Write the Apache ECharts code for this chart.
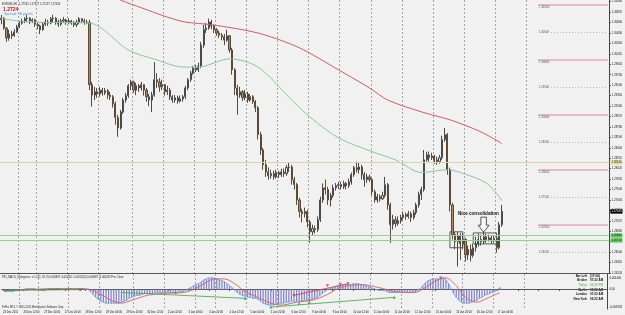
<!DOCTYPE html>
<html><head><meta charset="utf-8">
<script src="https://cdn.jsdelivr.net/npm/echarts@6/dist/echarts.min.js"></script>
<style>html,body{margin:0;padding:0;background:#f1f1f1}#c{width:625px;height:315px}</style>
</head><body><div id="c"></div>
<script>
const xTickLabels = ['23 Dec 2011','26 Dec 12:00','27 Dec 04:00','27 Dec 20:00','28 Dec 12:00','29 Dec 04:00','29 Dec 20:00','30 Dec 12:00','2 Jan 12:00','3 Jan 04:00','3 Jan 20:00','4 Jan 12:00','5 Jan 04:00','5 Jan 20:00','6 Jan 12:00','9 Jan 04:00','9 Jan 20:00','10 Jan 12:00','11 Jan 04:00','11 Jan 20:00','12 Jan 12:00','13 Jan 04:00','13 Jan 20:00','16 Jan 12:00','17 Jan 04:00'];
const slotCount = 235;
const dayStartSlots = [7,14,26,38,51,63,75,83,95,107,119,131,143,155,167,179,191,203];

const opens = [1.3073,1.3076,1.3058,1.3040,1.3047,1.3044,1.3051,1.3060,1.3067,1.3071,
1.3075,1.3076,1.3071,1.3073,1.3065,1.3062,1.3055,1.3065,1.3069,1.3067,
1.3075,1.3076,1.3069,1.3065,1.3071,1.3073,1.3069,1.3071,1.3067,1.3064,
1.3069,1.3075,1.3071,1.3069,1.3068,1.2955,1.2936,1.2942,1.2938,1.2945,
1.2940,1.2944,1.2936,1.2933,1.2920,1.2895,1.2876,1.2905,1.2927,1.2935,
1.2953,1.2960,1.2945,1.2953,1.2949,1.2955,1.2945,1.2933,1.2927,1.2936,
1.2964,1.2960,1.2951,1.2955,1.2942,1.2945,1.2933,1.2927,1.2931,1.2925,
1.2929,1.2933,1.2949,1.2964,1.2976,1.2985,1.2982,1.2989,1.3027,1.3055,
1.3058,1.3069,1.3062,1.3055,1.3049,1.3045,1.3042,1.3036,1.3044,1.3018,
1.2982,1.2949,1.2936,1.2942,1.2931,1.2938,1.2927,1.2933,1.2924,1.2913,
1.2864,1.2836,1.2809,1.2796,1.2789,1.2793,1.2787,1.2795,1.2791,1.2796,
1.2793,1.2804,1.2805,1.2782,1.2773,1.2745,1.2724,1.2720,1.2724,1.2705,
1.2687,1.2693,1.2691,1.2709,1.2745,1.2767,1.2764,1.2745,1.2753,1.2767,
1.2771,1.2773,1.2769,1.2775,1.2771,1.2778,1.2791,1.2804,1.2800,1.2805,
1.2791,1.2782,1.2787,1.2782,1.2760,1.2745,1.2751,1.2747,1.2753,1.2773,
1.2736,1.2700,1.2709,1.2702,1.2707,1.2713,1.2718,1.2715,1.2720,1.2713,
1.2722,1.2736,1.2755,1.2764,1.2818,1.2827,1.2822,1.2825,1.2818,1.2815,
1.2822,1.2855,1.2864,1.2800,1.2736,1.2682,1.2669,1.2680,1.2665,1.2673,
1.2645,1.2655,1.2644,1.2658,1.2665,1.2673,1.2669,1.2678,1.2673,1.2676,
1.2671,1.2675,1.2658,1.2700];
const closes = [1.3076,1.3058,1.3040,1.3047,1.3044,1.3051,1.3060,1.3067,1.3071,1.3075,
1.3076,1.3071,1.3073,1.3065,1.3062,1.3055,1.3065,1.3069,1.3067,1.3075,
1.3076,1.3069,1.3065,1.3071,1.3073,1.3069,1.3071,1.3067,1.3064,1.3069,
1.3075,1.3071,1.3069,1.3068,1.2955,1.2936,1.2942,1.2938,1.2945,1.2940,
1.2944,1.2936,1.2933,1.2920,1.2895,1.2876,1.2905,1.2927,1.2935,1.2953,
1.2960,1.2945,1.2953,1.2949,1.2955,1.2945,1.2933,1.2927,1.2936,1.2964,
1.2960,1.2951,1.2955,1.2942,1.2945,1.2933,1.2927,1.2931,1.2925,1.2929,
1.2933,1.2949,1.2964,1.2976,1.2985,1.2982,1.2989,1.3027,1.3055,1.3058,
1.3069,1.3062,1.3055,1.3049,1.3045,1.3042,1.3036,1.3044,1.3018,1.2982,
1.2949,1.2936,1.2942,1.2931,1.2938,1.2927,1.2933,1.2924,1.2913,1.2864,
1.2836,1.2809,1.2796,1.2789,1.2793,1.2787,1.2795,1.2791,1.2796,1.2793,
1.2804,1.2805,1.2782,1.2773,1.2745,1.2724,1.2720,1.2724,1.2705,1.2687,
1.2693,1.2691,1.2709,1.2745,1.2767,1.2764,1.2745,1.2753,1.2767,1.2771,
1.2773,1.2769,1.2775,1.2771,1.2778,1.2791,1.2804,1.2800,1.2805,1.2791,
1.2782,1.2787,1.2782,1.2760,1.2745,1.2751,1.2747,1.2753,1.2773,1.2736,
1.2700,1.2709,1.2702,1.2707,1.2713,1.2718,1.2715,1.2720,1.2713,1.2722,
1.2736,1.2755,1.2764,1.2818,1.2827,1.2822,1.2825,1.2818,1.2815,1.2822,
1.2855,1.2864,1.2800,1.2736,1.2682,1.2669,1.2680,1.2665,1.2673,1.2645,
1.2655,1.2644,1.2658,1.2665,1.2673,1.2669,1.2678,1.2673,1.2676,1.2671,
1.2675,1.2658,1.2700,1.27243];
const lows = [1.3065,1.3055,1.3033,1.3035,1.3038,1.3042,1.3049,1.3058,1.3064,1.3067,
1.3069,1.3065,1.3067,1.3060,1.3056,1.3047,1.3053,1.3062,1.3062,1.3065,
1.3069,1.3064,1.3060,1.3062,1.3067,1.3064,1.3065,1.3064,1.3060,1.3060,
1.3065,1.3067,1.3064,1.3065,1.2945,1.2915,1.2927,1.2931,1.2933,1.2935,
1.2936,1.2929,1.2927,1.2913,1.2882,1.2860,1.2873,1.2902,1.2922,1.2931,
1.2945,1.2940,1.2936,1.2942,1.2944,1.2935,1.2924,1.2916,1.2905,1.2933,
1.2949,1.2942,1.2945,1.2935,1.2936,1.2927,1.2922,1.2922,1.2920,1.2922,
1.2924,1.2929,1.2945,1.2960,1.2973,1.2978,1.2978,1.2985,1.3022,1.3049,
1.3055,1.3056,1.3049,1.3044,1.3040,1.3036,1.3027,1.3033,1.3013,1.2973,
1.2936,1.2900,1.2931,1.2925,1.2927,1.2922,1.2924,1.2920,1.2905,1.2855,
1.2827,1.2800,1.2787,1.2782,1.2784,1.2782,1.2784,1.2785,1.2787,1.2787,
1.2789,1.2796,1.2773,1.2764,1.2736,1.2713,1.2704,1.2713,1.2695,1.2667,
1.2680,1.2684,1.2687,1.2705,1.2740,1.2755,1.2736,1.2733,1.2749,1.2762,
1.2765,1.2764,1.2765,1.2764,1.2767,1.2773,1.2787,1.2795,1.2793,1.2782,
1.2769,1.2776,1.2778,1.2753,1.2740,1.2740,1.2742,1.2745,1.2749,1.2727,
1.2667,1.2691,1.2695,1.2698,1.2702,1.2709,1.2709,1.2711,1.2705,1.2709,
1.2718,1.2731,1.2745,1.2760,1.2815,1.2815,1.2818,1.2811,1.2809,1.2811,
1.2818,1.2851,1.2791,1.2724,1.2673,1.2655,1.2624,1.2636,1.2655,1.2633,
1.2636,1.2633,1.2640,1.2651,1.2660,1.2662,1.2665,1.2667,1.2669,1.2665,
1.2667,1.2649,1.2655,1.2696];
const highs = [1.3082,1.3078,1.3060,1.3055,1.3053,1.3056,1.3064,1.3071,1.3075,1.3078,
1.3082,1.3078,1.3076,1.3075,1.3069,1.3064,1.3069,1.3075,1.3073,1.3078,
1.3082,1.3078,1.3073,1.3075,1.3078,1.3075,1.3076,1.3073,1.3071,1.3073,
1.3078,1.3076,1.3075,1.3073,1.3073,1.2960,1.2951,1.2949,1.2951,1.2949,
1.2949,1.2947,1.2942,1.2936,1.2924,1.2900,1.2909,1.2931,1.2940,1.2956,
1.2964,1.2962,1.2958,1.2956,1.2960,1.2956,1.2949,1.2938,1.2942,1.2996,
1.2976,1.2967,1.2964,1.2956,1.2953,1.2949,1.2936,1.2936,1.2935,1.2935,
1.2936,1.2953,1.2967,1.2980,1.2989,1.2991,1.2995,1.3033,1.3064,1.3067,
1.3075,1.3073,1.3065,1.3058,1.3053,1.3049,1.3047,1.3055,1.3045,1.3022,
1.2985,1.2955,1.2951,1.2945,1.2945,1.2942,1.2938,1.2936,1.2927,1.2916,
1.2869,1.2840,1.2818,1.2804,1.2800,1.2798,1.2800,1.2798,1.2802,1.2802,
1.2809,1.2813,1.2809,1.2787,1.2776,1.2749,1.2729,1.2731,1.2727,1.2709,
1.2700,1.2698,1.2715,1.2751,1.2775,1.2782,1.2769,1.2758,1.2773,1.2776,
1.2778,1.2778,1.2780,1.2778,1.2784,1.2795,1.2807,1.2815,1.2813,1.2809,
1.2796,1.2793,1.2791,1.2785,1.2764,1.2756,1.2755,1.2760,1.2787,1.2776,
1.2740,1.2718,1.2715,1.2715,1.2718,1.2724,1.2722,1.2725,1.2724,1.2727,
1.2740,1.2760,1.2769,1.2836,1.2833,1.2833,1.2831,1.2827,1.2824,1.2827,
1.2862,1.2876,1.2867,1.2804,1.2740,1.2687,1.2687,1.2685,1.2684,1.2676,
1.2662,1.2664,1.2665,1.2678,1.2684,1.2682,1.2687,1.2684,1.2682,1.2680,
1.2680,1.2678,1.2705,1.2736];

const greenMA = [[0,1.3075],[11,1.3069],[34,1.3067],[49,1.3018],[60,1.3000],[70,1.2987],[76,1.2987],[88,1.3002],[99,1.2987],[112,1.2927],[119,1.2896],[130,1.2858],[143,1.2833],[152,1.2818],[162,1.2795],[172,1.2800],[177,1.2795],[187,1.2776],[192,1.2751],[193,1.2744]];
const redMA = [[38,1.3127],[46,1.3109],[54,1.3095],[64,1.3078],[71,1.3069],[81,1.3064],[99,1.3049],[115,1.3022],[130,1.2982],[142,1.2949],[149,1.2927],[163,1.2904],[173,1.2891],[184,1.2871],[192,1.2851],[193,1.2847]];

const sessionLevel = 1.2813;
const greenLevels = [1.2680, 1.2671];
const bidPrice = 1.27243;
const wholeLevels = [1.31, 1.30, 1.29, 1.28, 1.27];
const halfLevels = [1.305, 1.295, 1.285, 1.275, 1.265];

const macdHist = [-0.0001,-0.0001,-0.0002,-0.0002,-0.0002,-0.0001,-0.0001,
0,0,0.0001,0.0001,0.0001,0.0001,0,0,-0.0001,
0,0,0.0001,0.0001,0.0001,0.0001,0.0001,0,0,0.0001,0.0001,0,0,0,0.0001,0.0001,0,
0,
-0.0002,-0.0005,-0.0008,-0.0010,-0.0012,-0.0013,-0.0014,-0.0014,-0.0014,-0.0014,-0.0014,-0.0014,
-0.0013,-0.0012,-0.0011,-0.0009,-0.0008,-0.0007,-0.0006,-0.0006,-0.0005,-0.0004,-0.0004,-0.0004,-0.0004,
-0.0003,-0.0003,-0.0003,-0.0003,-0.0003,-0.0003,-0.0003,-0.0003,-0.0003,-0.0003,-0.0002,-0.0002,
-0.0001,0.0001,0.0002,0.0004,0.0005,0.0006,0.0008,0.0010,0.0011,0.0012,0.0012,0.0012,0.0011,0.0010,0.0009,0.0008,0.0006,0.0004,0.0002,
-0.0001,-0.0003,-0.0005,-0.0006,-0.0007,-0.0008,-0.0008,-0.0009,-0.0009,-0.0010,-0.0012,-0.0014,-0.0015,-0.0016,-0.0016,-0.0016,
-0.0015,-0.0015,-0.0014,-0.0014,-0.0013,-0.0013,-0.0012,-0.0012,-0.0012,-0.0012,-0.0012,-0.0011,-0.0011,-0.0011,-0.0010,-0.0009,-0.0008,-0.0006,-0.0004,-0.0002,
0,0.0001,0.0002,0.0003,0.0004,0.0004,0.0005,0.0005,0.0005,0.0005,0.0006,0.0006,0.0006,0.0005,0.0005,0.0004,0.0003,0.0002,0.0001,0,
-0.0001,-0.0001,-0.0001,-0.0002,-0.0003,-0.0003,-0.0003,-0.0003,-0.0003,-0.0003,-0.0003,-0.0003,-0.0003,-0.0003,-0.0002,-0.0001,
0.0001,0.0004,0.0007,0.0009,0.0010,0.0011,0.0011,0.0011,0.0012,0.0012,0.0010,0.0006,0.0001,-0.0004,
-0.0008,-0.0011,-0.0013,-0.0014,-0.0014,-0.0014,-0.0013,-0.0012,-0.0011,-0.0009,-0.0008,-0.0006,-0.0005,-0.0004,-0.0003,-0.0002,0,0.0002];
const macdSignal = [[0,-0.0001],[10,0],[20,0.0001],[30,0.0001],[34,0],[38,-0.0005],[42,-0.0011],[46,-0.0014],[50,-0.0011],[56,-0.0006],[62,-0.0004],[70,-0.0003],[74,0],[78,0.0006],[82,0.0011],[86,0.0011],[90,0.0006],[94,-0.0002],[98,-0.0007],[104,-0.0014],[108,-0.0016],[114,-0.0013],[120,-0.0011],[126,-0.0005],[130,0.0001],[134,0.0004],[140,0.0005],[146,0.0002],[152,-0.0002],[160,-0.0003],[164,0.0002],[168,0.0009],[172,0.0012],[176,0.0004],[180,-0.0009],[184,-0.0013],[188,-0.0009],[193,-0.0003]];
const greenDivLines = [[[1,-0.0001],[30,0]],[[46,-0.0003],[94,-0.0009]],[[104,-0.0018],[152,-0.0008]]];
const redDivLines = [[[113,-0.0006],[134,0.0006]]];
const greenArrows = [[1,-0.0001],[30,0],[67,-0.0003],[94,-0.0009],[104,-0.0018],[115,-0.0014],[119,-0.0013],[152,-0.0008]];
const redArrows = [[113,-0.0006],[126,0.0004],[131,0.0005],[134,0.0006],[170,0.0012]];
const macdTickValues = [0.0012, 0, -0.0018];
const macdTickLabels = ['0.001446', '0.00', '-0.001958'];

const infoNames = ['Bar Left','Broker','Tokyo','Berlin','London','New York'];
const infoValues = ['[37:04]','07:22 AM','03:22 PM','08:22 AM','07:22 AM','02:22 AM'];

const slots = Array.from({length: slotCount}, (_, i) => String(i));
const daySet = new Set(dayStartSlots);
const FONT = 'Liberation Sans';

const chart = echarts.init(document.getElementById('c'), null, {renderer: 'canvas'});

const splitDays = {show: true, interval: (i) => daySet.has(i), lineStyle: {color: '#a6a6a6', type: [2, 2], width: 1}};

const levelMarks = [];
wholeLevels.forEach(v => levelMarks.push([
  {coord: [207, v], lineStyle: {color: '#e6a9bb', width: 1.5, type: 'solid'},
   label: {show: true, position: 'insideStartBottom', formatter: v.toFixed(5), fontSize: 2.8, color: '#555', fontFamily: FONT, distance: 1}},
  {coord: [234, v]}
]));
halfLevels.forEach(v => levelMarks.push([
  {coord: [212, v], lineStyle: {color: '#b8b8b8', width: 1, type: [1, 2]},
   label: {show: true, position: 'start', formatter: v.toFixed(5), fontSize: 2.8, color: '#555', fontFamily: FONT, distance: 2}},
  {coord: [234, v]}
]));

const divSeries = [];
greenDivLines.forEach(d => divSeries.push({type: 'line', xAxisIndex: 1, yAxisIndex: 1, data: d, symbol: 'none', lineStyle: {color: '#3aa53a', width: 0.8}, silent: true}));
redDivLines.forEach(d => divSeries.push({type: 'line', xAxisIndex: 1, yAxisIndex: 1, data: d, symbol: 'none', lineStyle: {color: '#d03a3a', width: 0.8}, silent: true}));

const graphics = [
  {type: 'text', x: 2, y: 4, style: {text: 'EURUSD,H1  1.27261 1.27327 1.27227 1.27243', fill: '#222', font: '2.7px ' + FONT, verticalAlign: 'middle'}},
  {type: 'text', x: 3, y: 9.3, style: {text: '1.2724', fill: '#cc1111', font: 'bold 5px ' + FONT, verticalAlign: 'middle'}},
  {type: 'text', x: 4, y: 13.6, style: {text: 'Spread: 18 points', fill: '#5d8fd0', font: '3.7px ' + FONT, verticalAlign: 'middle'}},
  {type: 'text', x: 2, y: 277, style: {text: 'FX5_MACD_Divergence_v1.1(12, 26, 9) 0.000987 -0.000202 -0.00121(0) 0.000987 -0.000202 Pre: Close', fill: '#222', font: '2.6px ' + FONT, verticalAlign: 'middle'}},
  {type: 'text', x: 2, y: 307, style: {text: 'FxPro MT4, \u00a9 2001-2011 MetaQuotes Software Corp.', fill: '#222', font: '2.6px ' + FONT, verticalAlign: 'middle'}}
];
infoNames.forEach((n, i) => {
  const col = n === 'Tokyo' ? '#6cc46c' : '#111';
  graphics.push({type: 'text', x: 587, y: 275.7 + i * 4.7, style: {text: n, fill: col, font: 'bold 3px ' + FONT, align: 'right', verticalAlign: 'middle'}});
  graphics.push({type: 'text', x: 590, y: 275.7 + i * 4.7, style: {text: infoValues[i], fill: col, font: 'bold 3px ' + FONT, align: 'left', verticalAlign: 'middle'}});
});

chart.setOption({
  animation: false,
  backgroundColor: '#f1f1f1',
  textStyle: {fontFamily: FONT},
  grid: [
    {left: 0, right: 13, top: 0, height: 273},
    {left: 0, right: 13, top: 274, height: 35}
  ],
  xAxis: [
    {type: 'category', gridIndex: 0, data: slots, boundaryGap: true,
     axisLine: {show: true, lineStyle: {color: '#555', width: 1}}, axisTick: {show: false}, axisLabel: {show: false},
     splitLine: splitDays},
    {type: 'category', gridIndex: 1, data: slots, boundaryGap: true,
     axisLine: {show: true, lineStyle: {color: '#555', width: 1}},
     axisTick: {show: true, interval: 7, alignWithLabel: true, length: 1.5, lineStyle: {color: '#555'}},
     axisLabel: {interval: 7, align: 'left', margin: 2, fontSize: 2.7, color: '#111', fontFamily: FONT,
       formatter: (v, i) => (i % 8 === 0 && xTickLabels[i / 8]) ? xTickLabels[i / 8] : ''},
     splitLine: splitDays}
  ],
  yAxis: [
    {type: 'value', gridIndex: 0, position: 'right', min: 1.2612, max: 1.31091, interval: 0.0019,
     axisLine: {show: true, lineStyle: {color: '#444', width: 1}},
     axisTick: {show: true, length: 1.5, lineStyle: {color: '#444'}},
     axisLabel: {fontSize: 2.8, color: '#111', margin: 2.5, fontFamily: FONT, showMaxLabel: false, formatter: v => v.toFixed(5)},
     splitLine: {show: false}},
    {type: 'value', gridIndex: 1, position: 'right', min: -0.002, max: 0.0016, interval: 0.0002,
     axisLine: {show: true, lineStyle: {color: '#444', width: 1}},
     axisTick: {show: false},
     axisLabel: {fontSize: 2.8, color: '#111', margin: 2.5, fontFamily: FONT, showMinLabel: true, showMaxLabel: true,
       formatter: v => { const k = macdTickValues.findIndex(t => Math.abs(t - v) < 1e-7); return k >= 0 ? macdTickLabels[k] : ''; }},
     splitLine: {show: false}}
  ],
  graphic: graphics,
  series: [
    {type: 'candlestick', name: 'EURUSD,H1', xAxisIndex: 0, yAxisIndex: 0,
     data: opens.map((o, i) => [o, closes[i], lows[i], highs[i]]),
     barWidth: 1.6,
     itemStyle: {color: '#e6e6e6', color0: '#a88c66', borderColor: '#4a4a4a', borderColor0: '#5c4a36', borderWidth: 1},
     markLine: {symbol: ['none', 'none'], silent: true, animation: false, precision: 5, data: [
       {yAxis: sessionLevel, lineStyle: {color: '#d9d3a8', width: 1, type: 'solid'},
        label: {show: true, position: 'end', formatter: sessionLevel.toFixed(5), backgroundColor: '#e4dd9c', color: '#222', fontSize: 2.8, padding: [0.5, 1], distance: 1}},
       {yAxis: greenLevels[0], lineStyle: {color: '#8fd18f', width: 1, type: 'solid'},
        label: {show: true, position: 'end', formatter: greenLevels[0].toFixed(5), backgroundColor: '#5fcb5f', color: '#113311', fontSize: 2.8, padding: [0.5, 1], distance: 1}},
       {yAxis: greenLevels[1], lineStyle: {color: '#8fd18f', width: 1, type: 'solid'},
        label: {show: true, position: 'end', formatter: greenLevels[1].toFixed(5), backgroundColor: '#5fcb5f', color: '#113311', fontSize: 2.8, padding: [0.5, 1], distance: 1}},
       {yAxis: bidPrice, lineStyle: {color: 'rgba(0,0,0,0)', width: 0},
        label: {show: true, position: 'end', formatter: bidPrice.toFixed(5), backgroundColor: '#000', color: '#fff', fontSize: 2.8, padding: [0.8, 1], distance: 1}}
     ]},
     markArea: {silent: true, itemStyle: {color: 'rgba(0,0,0,0)', borderColor: '#333', borderWidth: 0.8}, data: [
       [{coord: [173, 1.2687]}, {coord: [178, 1.2658]}],
       [{coord: [182, 1.2685]}, {coord: [191, 1.2665]}]
     ]},
     markPoint: {silent: true, animation: false, data: [
       {coord: [186, 1.2700], symbol: 'path://M3,0L9,0L9,8L12,8L6,15L0,8L3,8Z', symbolSize: [11, 15],
        itemStyle: {color: '#f6f6f6', borderColor: '#333', borderWidth: 0.8}, label: {show: false}},
       {coord: [184, 1.27195], symbol: 'rect', symbolSize: 1, itemStyle: {color: 'rgba(0,0,0,0)'},
        label: {show: true, position: 'inside', formatter: 'Nice consolidation', fontSize: 4.6, color: '#111', fontWeight: 'bold', fontFamily: FONT}}
     ]}
    },
    {type: 'line', name: 'MA green', xAxisIndex: 0, yAxisIndex: 0, data: greenMA, symbol: 'none', smooth: 0.3,
     lineStyle: {color: '#86c9a4', width: 1}, silent: true,
     markLine: {symbol: ['none', 'none'], silent: true, animation: false, precision: 5, data: levelMarks}},
    {type: 'line', name: 'MA red', xAxisIndex: 0, yAxisIndex: 0, data: redMA, symbol: 'none', smooth: 0.3,
     lineStyle: {color: '#cf5a72', width: 1}, silent: true},
    {type: 'bar', name: 'MACD', xAxisIndex: 1, yAxisIndex: 1, data: macdHist, barWidth: 1.2,
     itemStyle: {color: '#7f7fcf'}, silent: true},
    {type: 'line', name: 'MACD line', xAxisIndex: 1, yAxisIndex: 1, data: macdHist, symbol: 'none',
     lineStyle: {color: '#5aa6ee', width: 0.8}, silent: true},
    {type: 'line', name: 'Signal', xAxisIndex: 1, yAxisIndex: 1, data: macdSignal, symbol: 'none', smooth: 0.3,
     lineStyle: {color: '#e05a5a', width: 0.9}, silent: true},
    ...divSeries,
    {type: 'scatter', xAxisIndex: 1, yAxisIndex: 1, data: greenArrows, symbol: 'triangle', symbolSize: 3,
     itemStyle: {color: '#2e9e2e'}, silent: true},
    {type: 'scatter', xAxisIndex: 1, yAxisIndex: 1, data: redArrows, symbol: 'triangle', symbolRotate: 180, symbolSize: 3,
     itemStyle: {color: '#d02a2a'}, silent: true}
  ]
});
</script>
</body></html>
